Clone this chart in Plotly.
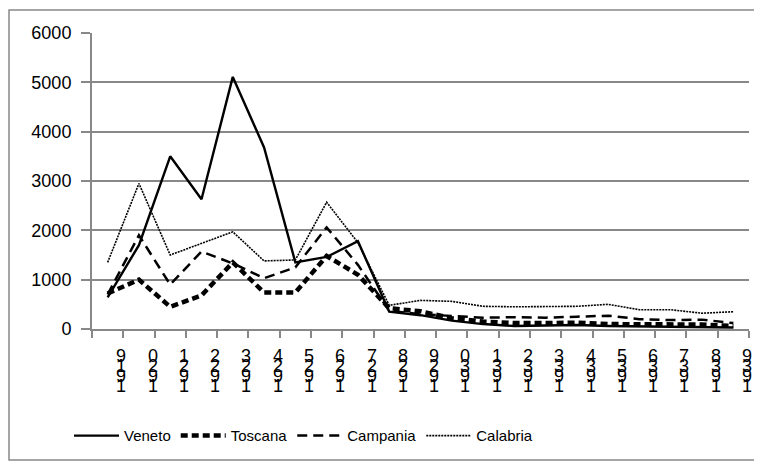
import plotly.graph_objects as go

years = list(range(1919, 1940))
veneto = [640, 1700, 3500, 2630, 5110, 3680, 1350, 1460, 1780, 350, 280, 170, 100, 60, 70, 80, 60, 50, 50, 40, 30]
toscana = [720, 1000, 450, 680, 1350, 740, 740, 1480, 1100, 420, 360, 220, 150, 120, 120, 130, 100, 100, 100, 90, 60]
campania = [700, 1900, 900, 1570, 1330, 1030, 1250, 2060, 1300, 370, 300, 270, 230, 240, 230, 250, 270, 200, 180, 190, 120]
calabria = [1350, 2950, 1500, 1730, 1970, 1380, 1400, 2570, 1750, 480, 580, 560, 460, 450, 460, 460, 500, 390, 390, 320, 350]

# year tick labels, drawn as stacked digits (last digit on top)
tick_labels = [list(reversed(str(y))) for y in years]
y_ticks = [0, 1000, 2000, 3000, 4000, 5000, 6000]

GRID = "#888888"
FONT = "Liberation Sans, Arial, sans-serif"
W, H = 754, 456          # page body has an 8px margin
L, T, R, B = 84, 25, 13, 135
PW, PH = W - L - R, H - T - B

fig = go.Figure()
fig.add_trace(go.Scatter(x=years, y=veneto, name="Veneto", mode="lines",
                         line=dict(color="black", width=2.4)))
fig.add_trace(go.Scatter(x=years, y=toscana, name="Toscana", mode="lines",
                         line=dict(color="black", width=4.5, dash="7px,4px")))
fig.add_trace(go.Scatter(x=years, y=campania, name="Campania", mode="lines",
                         line=dict(color="black", width=2.5, dash="10px,6px")))
fig.add_trace(go.Scatter(x=years, y=calabria, name="Calabria", mode="lines",
                         line=dict(color="black", width=1.6, dash="2px,1px")))

annotations = []
for y, digits in zip(years, tick_labels):
    for k, d in enumerate(digits):
        annotations.append(dict(
            x=y + 0.5, xref="x", y=0, yref="y", text=d, showarrow=False,
            xanchor="center", yanchor="top", xshift=-2, yshift=-(14.6 + 10 * k),
            font=dict(family=FONT, size=18, color="black"),
        ))

fig.update_layout(
    width=W, height=H,
    margin=dict(l=L, r=R, t=T, b=B),
    paper_bgcolor="white", plot_bgcolor="white",
    font=dict(family=FONT, color="black", size=18),
    showlegend=True,
    legend=dict(orientation="h", x=-0.035, xanchor="left", y=-0.361, yanchor="middle",
                itemwidth=45, font=dict(family=FONT, size=15),
                bgcolor="rgba(0,0,0,0)"),
    xaxis=dict(range=[1918.5, 1939.5], tickmode="array",
               tickvals=[1918.5] + [y + 0.5 for y in years],
               ticktext=[""] * (len(years) + 1),
               ticks="outside", ticklen=7, tickwidth=2, tickcolor=GRID,
               showline=True, linecolor=GRID, linewidth=2,
               showgrid=False, zeroline=False, automargin=False),
    yaxis=dict(range=[0, 6000], tickmode="array", tickvals=y_ticks,
               ticktext=[str(v) for v in y_ticks],
               ticks="outside", ticklen=9, tickwidth=2, tickcolor=GRID,
               ticklabelstandoff=6,
               showline=True, linecolor=GRID, linewidth=2,
               showgrid=True, gridcolor=GRID, gridwidth=2, zeroline=False,
               tickfont=dict(size=18), automargin=False),
    annotations=annotations,
    shapes=[dict(type="rect", xref="paper", yref="paper",
                 x0=(1 - L) / PW, x1=(750 - L) / PW,
                 y0=(T + PH - 452) / PH, y1=(T + PH - 2) / PH,
                 line=dict(color=GRID, width=1.5), layer="below")],
)

fig.write_html("out.html")
